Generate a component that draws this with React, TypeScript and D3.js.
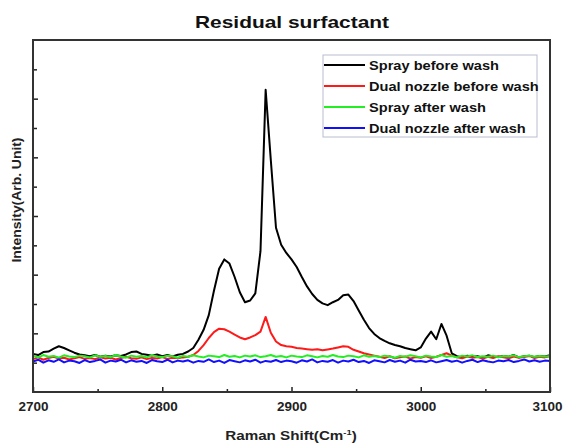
import React, { useEffect, useRef } from 'react';
import * as d3 from 'd3';

// raman shift grid, 4 cm-1 steps (2700 .. 3100)
const shift = d3.range(2700, 3101, 4);

const sprayBefore = [
  1.30, 1.26, 1.36, 1.38, 1.48, 1.56, 1.50, 1.42, 1.34, 1.28,
  1.25, 1.22, 1.26, 1.20, 1.24, 1.21, 1.25, 1.23, 1.28, 1.36,
  1.38, 1.30, 1.27, 1.24, 1.28, 1.22, 1.26, 1.21, 1.27, 1.30,
  1.38, 1.50, 1.78, 2.12, 2.62, 3.45, 4.20, 4.52, 4.38, 3.92,
  3.40, 3.06, 3.12, 3.36, 4.80, 10.30, 7.90, 5.60, 5.02, 4.74,
  4.52, 4.26, 3.92, 3.60, 3.34, 3.14, 3.02, 2.96, 3.06, 3.14,
  3.30, 3.32, 3.10, 2.78, 2.46, 2.18, 1.98, 1.84, 1.74, 1.66,
  1.60, 1.56, 1.50, 1.46, 1.42, 1.52, 1.82, 2.06, 1.80, 2.32,
  1.92, 1.32, 1.22, 1.18, 1.24, 1.20, 1.22, 1.17, 1.25, 1.21,
  1.19, 1.23, 1.20, 1.26, 1.18, 1.22, 1.24, 1.19, 1.23, 1.21,
  1.25
];

const dualBefore = [
  1.12, 1.18, 1.10, 1.16, 1.20, 1.14, 1.17, 1.11, 1.15, 1.19,
  1.13, 1.16, 1.12, 1.18, 1.14, 1.17, 1.11, 1.16, 1.20, 1.15,
  1.13, 1.18, 1.12, 1.16, 1.14, 1.19, 1.13, 1.17, 1.15, 1.18,
  1.20, 1.26, 1.40, 1.60, 1.84, 2.04, 2.16, 2.14, 2.06, 1.96,
  1.86, 1.80, 1.86, 1.94, 2.06, 2.56, 2.02, 1.72, 1.60, 1.56,
  1.54, 1.50, 1.48, 1.46, 1.44, 1.46, 1.42, 1.45, 1.48, 1.52,
  1.56, 1.54, 1.44, 1.38, 1.32, 1.28, 1.24, 1.20, 1.16, 1.22,
  1.15, 1.18, 1.21, 1.14, 1.19, 1.17, 1.22, 1.16, 1.20, 1.26,
  1.32, 1.24, 1.18, 1.15, 1.21, 1.17, 1.19, 1.14, 1.20, 1.16,
  1.22, 1.18, 1.15, 1.21, 1.17, 1.19, 1.23, 1.16, 1.20, 1.18,
  1.22
];

const sprayAfter = [
  1.24, 1.18, 1.26, 1.20, 1.23, 1.17, 1.25, 1.21, 1.19, 1.24,
  1.22, 1.18, 1.25, 1.20, 1.23, 1.19, 1.26, 1.21, 1.17, 1.24,
  1.20, 1.23, 1.18, 1.25, 1.21, 1.19, 1.24, 1.22, 1.17, 1.23,
  1.20, 1.25, 1.21, 1.18, 1.24, 1.22, 1.19, 1.26, 1.20, 1.23,
  1.18, 1.24, 1.21, 1.25, 1.19, 1.22, 1.26, 1.20, 1.23, 1.18,
  1.24, 1.21, 1.19, 1.25, 1.22, 1.18, 1.23, 1.20, 1.26, 1.21,
  1.19, 1.24, 1.22, 1.18, 1.25, 1.20, 1.23, 1.19, 1.24, 1.21,
  1.17, 1.23, 1.20, 1.25, 1.22, 1.18, 1.24, 1.21, 1.19, 1.26,
  1.20, 1.23, 1.18, 1.24, 1.21, 1.25, 1.19, 1.22, 1.20, 1.24,
  1.18, 1.23, 1.21, 1.25, 1.19, 1.22, 1.24, 1.20, 1.23, 1.21,
  1.22
];

const dualAfter = [
  1.04, 1.10, 1.00, 1.08, 1.03, 1.11, 1.01, 1.07, 1.05, 0.99,
  1.09, 1.02, 1.06, 1.11, 1.00, 1.07, 1.04, 1.10, 1.01, 1.08,
  1.03, 1.06, 0.99, 1.09, 1.05, 1.02, 1.10, 1.01, 1.07, 1.04,
  1.08, 1.00, 1.06, 1.03, 1.11, 1.02, 1.07, 0.99, 1.09, 1.05,
  1.01, 1.08, 1.04, 1.10, 1.00, 1.06, 1.03, 1.09, 1.02, 1.07,
  1.05, 1.00, 1.08, 1.04, 1.11, 1.01, 1.06, 1.03, 1.09, 1.00,
  1.07, 1.04, 1.10, 1.02, 1.06, 0.99, 1.08, 1.05, 1.01, 1.09,
  1.03, 1.07, 1.00, 1.10, 1.04, 1.06, 1.02, 1.08, 1.01, 1.05,
  1.09, 1.03, 1.07, 1.00, 1.06, 1.10, 1.02, 1.08, 1.04, 1.01,
  1.07, 1.05, 1.09, 1.02, 1.06, 1.11, 1.04, 1.08, 1.03, 1.07,
  1.06
];

const seriesNames = ['Spray before wash', 'Dual nozzle before wash', 'Spray after wash', 'Dual nozzle after wash'];
const seriesColors = ['#000000', '#ff1a1a', '#22ee22', '#1010ff'];
const seriesValues = [sprayBefore, dualBefore, sprayAfter, dualAfter];

const xMajorTicks = [2700, 2800, 2900, 3000, 3100];
const xMinorTicks = [2750, 2850, 2950, 3050];
const yMajorTicks = [2, 4, 6, 8, 10];
const yMinorTicks = [1, 3, 5, 7, 9, 11];

export default function App() {
  const ref = useRef<SVGSVGElement>(null);

  useEffect(() => {
    const width = 564;
    const height = 444;
    const margin = { top: 40, right: 14, bottom: 52, left: 33 };
    const font = 'Arial, "Liberation Sans", sans-serif';
    // the source picture is a bit wider than tall, text looks stretched
    const stretch = 1.17;

    const svg = d3.select(ref.current);
    svg.selectAll('*').remove();

    const x = d3.scaleLinear().domain([2700, 3100]).range([margin.left, width - margin.right]);
    const y = d3.scaleLinear().domain([0, 12]).range([height - margin.bottom, margin.top]);

    // title
    svg.append('text')
      .attr('transform', 'translate(292, 28)')
      .attr('text-anchor', 'middle')
      .attr('textLength', 194).attr('lengthAdjust', 'spacingAndGlyphs')
      .style('font-family', font).style('font-weight', 'bold').style('font-size', '17px')
      .attr('fill', '#111')
      .text('Residual surfactant');

    // lines
    const line = d3.line<number>()
      .x((d, i) => x(shift[i]))
      .y(d => y(d));

    seriesValues.forEach((vals, k) => {
      svg.append('path')
        .datum(vals)
        .attr('d', line)
        .attr('fill', 'none')
        .attr('stroke', seriesColors[k])
        .attr('stroke-width', 2)
        .attr('stroke-linejoin', 'round');
    });

    // axes, ticks point inward
    const bottom = height - margin.bottom;
    const xAxis = svg.append('g').attr('transform', `translate(0, ${bottom})`)
      .call(d3.axisBottom(x).tickValues(xMajorTicks).tickSize(-5).tickPadding(10).tickFormat(d3.format('d')));
    svg.append('g').attr('transform', `translate(0, ${bottom})`)
      .call(d3.axisBottom(x).tickValues(xMinorTicks).tickSize(-3).tickFormat(() => ''));
    xAxis.selectAll('text')
      .attr('textLength', 30).attr('lengthAdjust', 'spacingAndGlyphs')
      .attr('dx', (d: any) => (d === 3100 ? -3 : 0))
      .style('font-family', font).style('font-weight', 'bold').style('font-size', '12px').attr('fill', '#222');

    svg.append('g').attr('transform', `translate(${margin.left}, 0)`)
      .call(d3.axisLeft(y).tickValues(yMajorTicks).tickSize(-5).tickFormat(() => ''));
    svg.append('g').attr('transform', `translate(${margin.left}, 0)`)
      .call(d3.axisLeft(y).tickValues(yMinorTicks).tickSize(-4).tickFormat(() => ''));

    svg.selectAll('.domain').remove();
    svg.selectAll('.tick line').attr('stroke', '#222').attr('stroke-width', 1.5);

    // frame
    svg.append('rect')
      .attr('x', margin.left).attr('y', margin.top)
      .attr('width', width - margin.left - margin.right)
      .attr('height', height - margin.top - margin.bottom)
      .attr('fill', 'none').attr('stroke', '#333').attr('stroke-width', 2);

    // axis titles
    const xt = svg.append('text')
      .attr('transform', `translate(291, 440) scale(${stretch}, 1)`)
      .attr('text-anchor', 'middle')
      .style('font-family', font).style('font-weight', 'bold').style('font-size', '13px')
      .attr('fill', '#222');
    xt.append('tspan').text('Raman Shift(Cm');
    xt.append('tspan').attr('dy', -5).style('font-size', '8px').text('-1');
    xt.append('tspan').attr('dy', 5).text(')');

    svg.append('text')
      .attr('transform', 'translate(21, 200) rotate(-90)')
      .attr('text-anchor', 'middle')
      .attr('textLength', 125).attr('lengthAdjust', 'spacingAndGlyphs')
      .style('font-family', font).style('font-weight', 'bold').style('font-size', '13px')
      .attr('fill', '#222')
      .text('Intensity(Arb. Unit)');

    // legend
    const lg = svg.append('g');
    lg.append('rect')
      .attr('x', 323).attr('y', 55).attr('width', 214).attr('height', 82)
      .attr('fill', 'white').attr('stroke', '#b8bcd0').attr('stroke-width', 1);
    seriesNames.forEach((name, k) => {
      const ly = 65 + k * 21;
      lg.append('line')
        .attr('x1', 324).attr('x2', 365).attr('y1', ly).attr('y2', ly)
        .attr('stroke', seriesColors[k]).attr('stroke-width', 2);
      lg.append('text')
        .attr('transform', `translate(369, ${ly + 4.5}) scale(${stretch}, 1)`)
        .style('font-family', font).style('font-weight', 'bold').style('font-size', '12.5px')
        .attr('fill', '#111')
        .text(name);
    });
  }, []);

  return (
    <svg ref={ref} width={564} height={444}
      style={{ position: 'absolute', left: 0, top: 0, background: 'white' }} />
  );
}
